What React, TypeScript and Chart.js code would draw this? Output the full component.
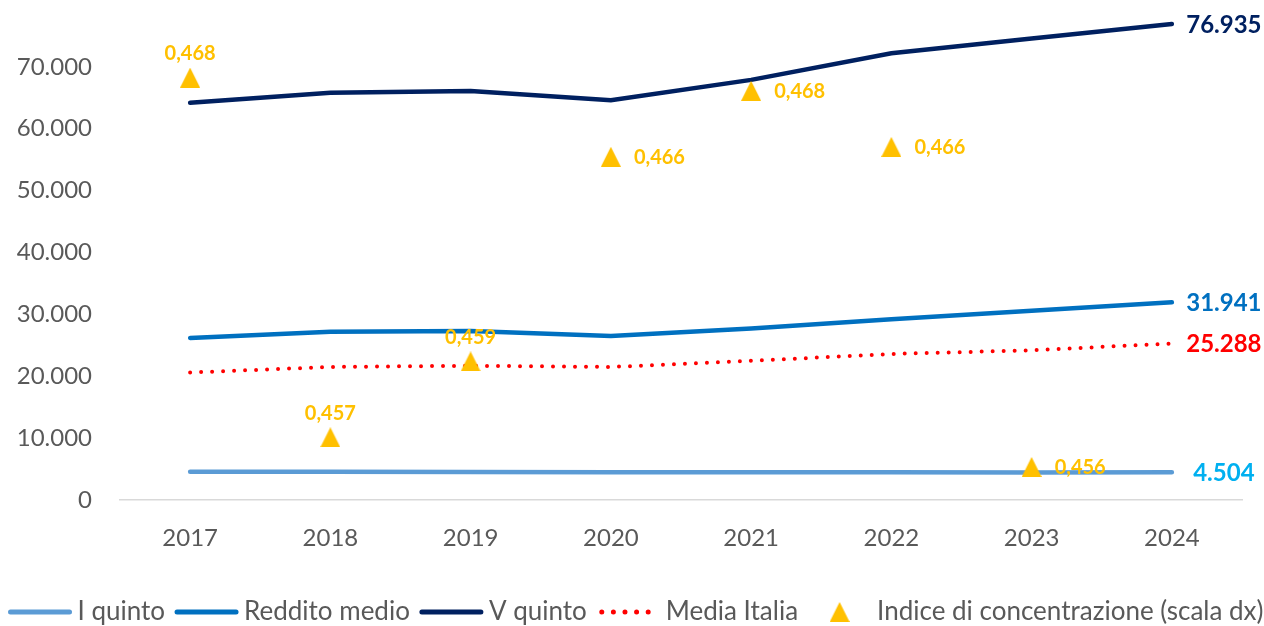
import React, { useEffect, useRef } from 'react';
import { Chart, registerables } from 'chart.js';

Chart.register(...registerables);

// ---------- DATA ----------
const years = ['2017', '2018', '2019', '2020', '2021', '2022', '2023', '2024'];
const primoQuinto = [4550, 4580, 4530, 4500, 4480, 4470, 4460, 4504];
const redditoMedio = [26200, 27200, 27300, 26500, 27700, 29200, 30600, 31941];
const quintoQuinto = [64200, 65800, 66100, 64600, 67900, 72200, 74600, 76935];
const mediaItalia = [20600, 21500, 21700, 21500, 22500, 23600, 24200, 25288];
const indiceConcentrazione: (number | null)[] = [0.468, 0.4571, 0.4594, 0.4656, 0.4676, 0.4659, 0.4562, null];
const indiceLabelPos = ['top', 'top', 'top', 'right', 'right', 'right', 'right', 'right'];

const FONT = 'Lato, "Open Sans", sans-serif';
const GREY = '#595959';

function fmtIt(v: number): string {
  return Math.round(v).toString().replace(/\B(?=(\d{3})+(?!\d))/g, '.');
}
function fmtIdx(v: number): string {
  return v.toFixed(3).replace('.', ',');
}

function makeTriangle(size: number, color: string): HTMLCanvasElement {
  const c = document.createElement('canvas');
  c.width = size;
  c.height = size;
  const g = c.getContext('2d')!;
  g.fillStyle = color;
  g.beginPath();
  g.moveTo(0, size);
  g.lineTo(size / 2, 0);
  g.lineTo(size, size);
  g.closePath();
  g.fill();
  return c;
}

const valueLabelsPlugin = {
  id: 'valueLabels',
  afterDatasetsDraw(chart: any) {
    const ctx = chart.ctx;
    ctx.save();
    chart.data.datasets.forEach((ds: any, i: number) => {
      const meta = chart.getDatasetMeta(i);
      if (ds.endLabelColor) {
        const last = meta.data[meta.data.length - 1];
        ctx.font = `bold 24px ${FONT}`;
        ctx.textAlign = 'center';
        ctx.textBaseline = 'middle';
        ctx.fillStyle = ds.endLabelColor;
        ctx.fillText(fmtIt(ds.data[ds.data.length - 1]), last.x + 52, last.y + 1);
      }
      if (ds.indexLabels) {
        ctx.font = `bold 20px ${FONT}`;
        ctx.fillStyle = '#FFC000';
        ctx.textBaseline = 'middle';
        meta.data.forEach((pt: any, j: number) => {
          const v = ds.data[j];
          if (v === null || v === undefined) return;
          if (indiceLabelPos[j] === 'top') {
            ctx.textAlign = 'center';
            ctx.fillText(fmtIdx(v), pt.x, pt.y - 24);
          } else {
            ctx.textAlign = 'left';
            ctx.fillText(fmtIdx(v), pt.x + 23, pt.y + 1);
          }
        });
      }
    });
    ctx.restore();
  },
};

const legendPlugin = {
  id: 'customLegend',
  afterDraw(chart: any) {
    const ctx = chart.ctx;
    ctx.save();
    ctx.font = `26px ${FONT}`;
    const slot = 63;
    const gapText = 6;
    const gapItem = 10;
    const items = chart.data.datasets.map((ds: any) => ds);
    const widths = items.map((ds: any) => ctx.measureText(ds.label).width);
    let total = 0;
    widths.forEach((w: number) => (total += slot + gapText + w));
    total += gapItem * (items.length - 1);
    let x = chart.width / 2 + 4 - total / 2;
    const y = 612;
    const order = [1, 2, 3, 4, 0];
    order.forEach((k) => {
      const ds = items[k];
      const w = ctx.measureText(ds.label).width;
      if (ds.legendKind === 'line') {
        ctx.strokeStyle = ds.borderColor;
        ctx.lineWidth = 5;
        ctx.lineCap = 'round';
        ctx.setLineDash([]);
        ctx.beginPath();
        ctx.moveTo(x + 2, y);
        ctx.lineTo(x + slot - 2, y);
        ctx.stroke();
      } else if (ds.legendKind === 'dots') {
        ctx.strokeStyle = ds.borderColor;
        ctx.lineWidth = 5;
        ctx.lineCap = 'round';
        ctx.setLineDash([0, 11.6]);
        ctx.beginPath();
        ctx.moveTo(x + 5, y);
        ctx.lineTo(x + slot, y);
        ctx.stroke();
        ctx.setLineDash([]);
      } else {
        const img = ds.pointStyle as HTMLCanvasElement;
        ctx.drawImage(img, x + slot / 2 - img.width / 2, y - img.height / 2);
      }
      ctx.fillStyle = GREY;
      ctx.textAlign = 'left';
      ctx.textBaseline = 'middle';
      ctx.fillText(ds.label, x + slot + gapText, y);
      x += slot + gapText + w + gapItem;
    });
    ctx.restore();
  },
};

export default function App() {
  const canvasRef = useRef<HTMLCanvasElement | null>(null);

  useEffect(() => {
    document.body.style.margin = '0';
    document.body.style.overflow = 'hidden';
    let chart: Chart | null = null;
    let cancelled = false;

    const build = () => {
      if (cancelled || !canvasRef.current) return;
      const tri = makeTriangle(20, '#FFC000');
      chart = new Chart(canvasRef.current, {
        type: 'line',
        data: {
          labels: years,
          datasets: [
            {
              label: 'Indice di concentrazione (scala dx)',
              data: indiceConcentrazione,
              yAxisID: 'y1',
              showLine: false,
              pointStyle: tri,
              pointRadius: 10,
              backgroundColor: '#FFC000',
              borderColor: '#FFC000',
              order: 0,
              legendKind: 'triangle',
              indexLabels: true,
            } as any,
            {
              label: 'I quinto',
              data: primoQuinto,
              borderColor: '#5B9BD5',
              borderWidth: 4.5,
              pointRadius: 0,
              borderCapStyle: 'round',
              order: 4,
              legendKind: 'line',
              endLabelColor: '#00B0F0',
            } as any,
            {
              label: 'Reddito medio',
              data: redditoMedio,
              borderColor: '#0070C0',
              borderWidth: 4.5,
              pointRadius: 0,
              borderCapStyle: 'round',
              order: 3,
              legendKind: 'line',
              endLabelColor: '#0070C0',
            } as any,
            {
              label: 'V quinto',
              data: quintoQuinto,
              borderColor: '#002060',
              borderWidth: 4.5,
              pointRadius: 0,
              borderCapStyle: 'round',
              order: 2,
              legendKind: 'line',
              endLabelColor: '#002060',
            } as any,
            {
              label: 'Media Italia',
              data: mediaItalia,
              borderColor: '#FF0000',
              borderWidth: 4,
              borderDash: [0, 11],
              borderCapStyle: 'round',
              pointRadius: 0,
              order: 1,
              legendKind: 'dots',
              endLabelColor: '#FF0000',
            } as any,
          ],
        },
        options: {
          responsive: true,
          maintainAspectRatio: false,
          animation: false,
          layout: { autoPadding: false, padding: { top: 5, right: 22, left: 0, bottom: 0 } },
          plugins: {
            legend: { display: false },
            tooltip: { enabled: false },
          },
          elements: { line: { tension: 0 } },
          scales: {
            x: {
              offset: true,
              grid: { display: false, drawTicks: false },
              border: { display: true, color: '#D9D9D9', width: 1.5 },
              ticks: { color: GREY, font: { family: FONT, size: 24 }, padding: 24 },
              afterFit: (s: any) => {
                s.height = 126;
                s.paddingLeft = 0;
                s.paddingRight = 0;
              },
            },
            y: {
              min: 0,
              max: 80000,
              grid: { display: false, drawTicks: false },
              border: { display: false },
              ticks: {
                stepSize: 10000,
                color: GREY,
                font: { family: FONT, size: 24 },
                padding: 28,
                callback: (v: any) => fmtIt(Number(v)),
              },
              afterBuildTicks: (s: any) => {
                s.ticks = s.ticks.filter((t: any) => t.value <= 70000);
              },
              afterFit: (s: any) => {
                s.width = 120;
                s.paddingTop = 0;
                s.paddingBottom = 0;
              },
            },
            y1: {
              display: false,
              position: 'right',
              min: 0.4552,
              max: 0.4702,
            },
          },
        } as any,
        plugins: [valueLabelsPlugin, legendPlugin],
      });
    };

    const fonts: any = (document as any).fonts;
    if (fonts && fonts.load) {
      Promise.all([
        fonts.load(`24px Lato`),
        fonts.load(`bold 24px Lato`),
      ])
        .catch(() => null)
        .then(() => build());
    } else {
      build();
    }

    return () => {
      cancelled = true;
      if (chart) chart.destroy();
    };
  }, []);

  return (
    <div style={{ position: 'relative', width: '1264px', height: '626px' }}>
      <canvas ref={canvasRef} />
    </div>
  );
}
